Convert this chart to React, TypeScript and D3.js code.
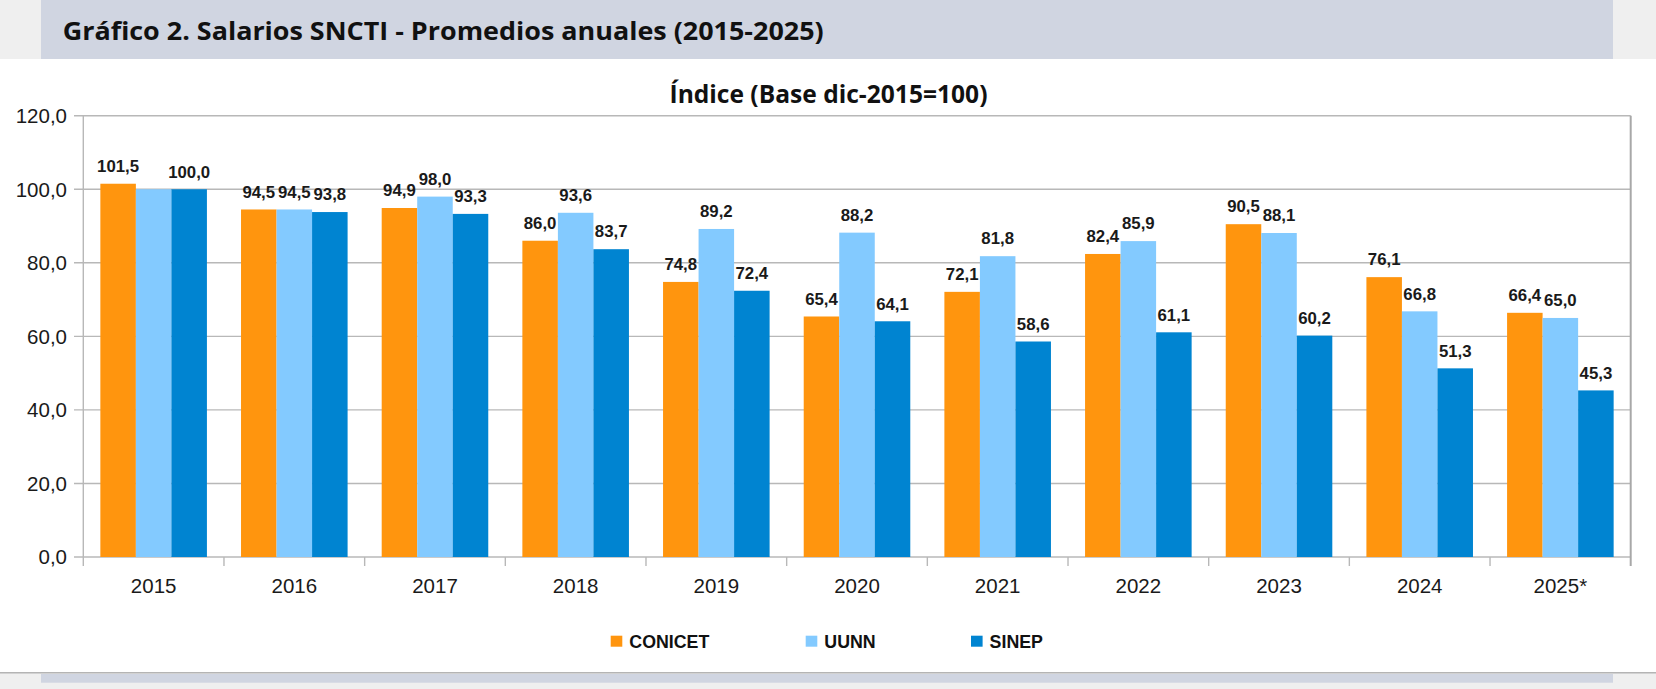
import * as d3 from 'd3'

const years = ['2015', '2016', '2017', '2018', '2019', '2020', '2021', '2022', '2023', '2024', '2025*']
const seriesNames = ['CONICET', 'UUNN', 'SINEP']
const conicet = [101.5, 94.5, 94.9, 86.0, 74.8, 65.4, 72.1, 82.4, 90.5, 76.1, 66.4]
const uunn = [100.0, 94.5, 98.0, 93.6, 89.2, 88.2, 81.8, 85.9, 88.1, 66.8, 65.0]
const sinep = [100.0, 93.8, 93.3, 83.7, 72.4, 64.1, 58.6, 61.1, 60.2, 51.3, 45.3]
const yTicks = [0, 20, 40, 60, 80, 100, 120]
// the UUNN 2015 label is not shown in the original
const hiddenLabels = ['UUNN-2015']

const colors = ['#ff950e', '#83caff', '#0084d1']
const W = 1656
const H = 689

const fmt = d3.formatLocale({ decimal: ',', thousands: '.', grouping: [3], currency: ['', ''] }).format('.1f')

const App = () => {
  const values = [conicet, uunn, sinep]
  const left = 83.3
  const right = 1630.7
  const top = 115.7
  const bottom = 557

  const x0 = d3.scaleBand().domain(years).range([left, right]).paddingInner(0).paddingOuter(0)
  const x1 = d3.scaleBand().domain(seriesNames).range([0, x0.bandwidth()]).paddingInner(0).paddingOuter(0.48)
  const y = d3.scaleLinear().domain([0, 120]).range([bottom, top])

  const chartFont = '"Liberation Sans", Arial, sans-serif'
  const titleFont = '"Open Sans", "Noto Sans", sans-serif'
  const legendX = [610.7, 805.7, 971]

  return (
    <>
      <style>{'body{margin:0}'}</style>
      <svg width={W} height={H} style={{ display: 'block' }}>
        <rect x={0} y={0} width={W} height={H} fill="#ffffff" />

        {/* header */}
        <rect x={0} y={0} width={W} height={59} fill="#efefef" />
        <rect x={41} y={0} width={1572} height={59} fill="#d0d5e1" />
        <text x={62.7} y={40} fontFamily={titleFont} fontWeight={700} fontSize={25.5} fill="#111"
          textLength={761} lengthAdjust="spacingAndGlyphs">
          Gráfico 2. Salarios SNCTI - Promedios anuales (2015-2025)
        </text>

        <text x={(669.3 + 987.7) / 2} y={103.3} textAnchor="middle" fontFamily={titleFont} fontWeight={700}
          fontSize={25.5} fill="#111" textLength={318} lengthAdjust="spacingAndGlyphs">
          Índice (Base dic-2015=100)
        </text>

        {/* grid */}
        {yTicks.map((t) => (
          <g key={t}>
            <line x1={74} x2={right} y1={y(t)} y2={y(t)} stroke="#b8b8b8" strokeWidth={1.4} />
            <text x={67} y={y(t) + 7.3} textAnchor="end" fontFamily={chartFont} fontSize={20.5} fill="#1a1a1a">
              {fmt(t)}
            </text>
          </g>
        ))}
        <line x1={left} x2={left} y1={top} y2={bottom + 9} stroke="#b8b8b8" strokeWidth={1.4} />
        <line x1={right} x2={right} y1={top} y2={bottom + 9} stroke="#a8a8a8" strokeWidth={2} />
        {years.map((yr, i) =>
          i === 0 ? null : (
            <line key={yr} x1={x0(yr)} x2={x0(yr)} y1={bottom} y2={bottom + 9} stroke="#b8b8b8" strokeWidth={1.4} />
          ),
        )}

        {/* bars */}
        {years.map((yr, i) => (
          <g key={yr} transform={`translate(${x0(yr)},0)`}>
            {seriesNames.map((s, j) => {
              const v = values[j][i]
              return (
                <rect key={s} x={x1(s)} y={y(v)} width={x1.bandwidth()} height={bottom - y(v)} fill={colors[j]} />
              )
            })}
          </g>
        ))}

        {/* value labels */}
        {years.map((yr, i) =>
          seriesNames.map((s, j) => {
            if (hiddenLabels.includes(`${s}-${yr}`)) return null
            const v = values[j][i]
            return (
              <text key={`${yr}-${s}`} x={(x0(yr) ?? 0) + (x1(s) ?? 0) + x1.bandwidth() / 2} y={y(v) - 11.7}
                textAnchor="middle" fontFamily={chartFont} fontWeight={700} fontSize={16.8} fill="#1a1a1a">
                {fmt(v)}
              </text>
            )
          }),
        )}

        {/* x labels */}
        {years.map((yr) => (
          <text key={yr} x={(x0(yr) ?? 0) + x0.bandwidth() / 2} y={593} textAnchor="middle" fontFamily={chartFont}
            fontSize={20.5} fill="#1a1a1a">
            {yr}
          </text>
        ))}

        {/* legend */}
        {seriesNames.map((s, j) => (
          <g key={s}>
            <rect x={legendX[j]} y={635.7} width={11.6} height={11} fill={colors[j]} />
            <text x={legendX[j] + 18.6} y={647.7} fontFamily={chartFont} fontWeight={700} fontSize={17.8} fill="#111">
              {s}
            </text>
          </g>
        ))}

        {/* footer */}
        <rect x={0} y={672} width={W} height={H - 672} fill="#efefef" />
        <line x1={0} x2={W} y1={672.7} y2={672.7} stroke="#b4b4b4" strokeWidth={1.6} />
        <rect x={41} y={674} width={1572} height={8.7} fill="#d0d5e1" />
      </svg>
    </>
  )
}

export default App
